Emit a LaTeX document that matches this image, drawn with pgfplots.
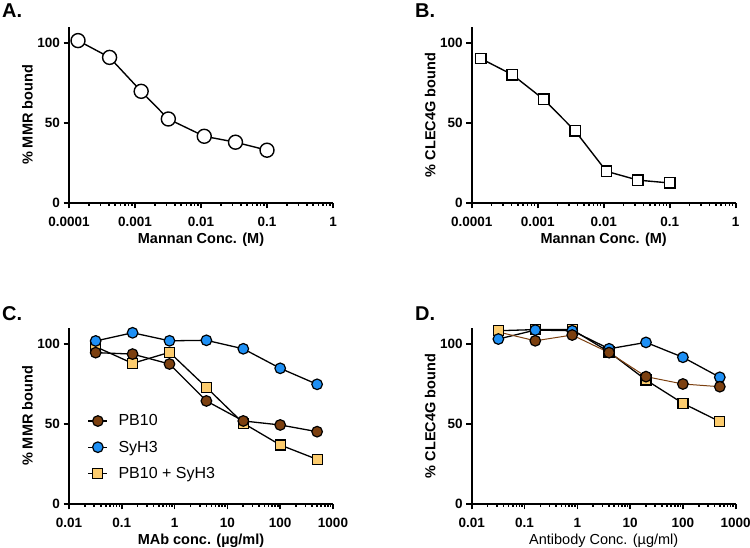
\documentclass[border=0pt]{standalone}
\usepackage{fontspec}
\setmainfont{Liberation Sans}
\usepackage{pgfplots}
\pgfplotsset{compat=1.18}

\definecolor{pbbrown}{RGB}{124,64,16}
\definecolor{syblue}{RGB}{30,144,245}
\definecolor{mixyellow}{RGB}{252,204,110}

\pgfplotsset{
  panel/.style={
    scale only axis, width=264pt, height=176pt,
    ymin=0, ymax=110,
    axis x line*=bottom, axis y line*=left,
    axis line style={line width=1.6pt, -},
    tick style={line width=1.6pt, black},
    major tick length=5.5pt, tick align=outside,
    minor xtick={}, minor ytick={},
    ytick={0,50,100}, yticklabels={0,50,100},
    tick label style={font=\fontsize{13.5}{15}\selectfont\bfseries},
    xticklabel style={yshift=-5pt},
    every axis y label/.style={at={(axis description cs:0,0.5)}, xshift=-41.5pt,
      rotate=90, anchor=center, font=\fontsize{14.5}{16}\selectfont\bfseries},
    every axis x label/.style={at={(axis description cs:0.5,0)}, yshift=-37pt,
      anchor=center, font=\fontsize{14.5}{16}\selectfont\bfseries},
    clip=false,
  },
  mannan/.style={xmin=0.0001, xmax=1,
    xtick={0.0001,0.001,0.01,0.1,1}, xticklabels={0.0001,0.001,0.01,0.1,1},
    xlabel={Mannan Conc. (M)}},
  dose/.style={xmin=0.01, xmax=1000,
    xtick={0.01,0.1,1,10,100,1000}, xticklabels={0.01,0.1,1,10,100,1000}},
  pb/.style={black, line width=1.3pt, mark=*, mark size=5.3pt,
    mark options={fill=pbbrown, draw=black, line width=1.2pt}},
  sy/.style={black, line width=1.3pt, mark=*, mark size=5.3pt,
    mark options={fill=syblue, draw=black, line width=1.2pt}},
  mix/.style={black, line width=1.3pt, mark=square*, mark size=5pt,
    mark options={fill=mixyellow, draw=black, line width=1.2pt}},
}

\begin{document}
\begin{tikzpicture}[x=1pt,y=1pt]
\useasboundingbox (0,0) rectangle (750,548);

\node[anchor=base west, inner sep=0pt, font=\fontsize{20}{24}\selectfont\bfseries] at (2,530) {A.};
\node[anchor=base west, inner sep=0pt, font=\fontsize{20}{24}\selectfont\bfseries] at (415,530) {B.};
\node[anchor=base west, inner sep=0pt, font=\fontsize{20}{24}\selectfont\bfseries] at (2,227) {C.};
\node[anchor=base west, inner sep=0pt, font=\fontsize{20}{24}\selectfont\bfseries] at (415,227) {D.};

% A
\begin{semilogxaxis}[panel, mannan, at={(69pt,345pt)}, anchor=south west, ylabel={\% MMR bound}]
\addplot[black, line width=1.4pt, mark=*, mark size=7pt,
  mark options={fill=white, line width=1.4pt}] coordinates {
  (0.000137,101.5) (0.000412,91) (0.00124,69.8) (0.0032,52.5)
  (0.0112,41.7) (0.0333,38) (0.1,33)};
\end{semilogxaxis}

% B
\begin{semilogxaxis}[panel, mannan, at={(471.7pt,345pt)}, anchor=south west, ylabel={\% CLEC4G bound}]
\addplot[black, line width=1.4pt, mark=square*, mark size=5.2pt,
  mark options={fill=white, line width=1.4pt}] coordinates {
  (0.000137,90.3) (0.000412,80.2) (0.00123,64.8) (0.0037,45)
  (0.011,19.8) (0.033,14.3) (0.1,12.5)};
\end{semilogxaxis}

% C
\begin{semilogxaxis}[panel, dose, at={(69pt,44pt)}, anchor=south west,
  xlabel={MAb conc. (µg/ml)}, ylabel={\% MMR bound},
  legend cell align=left,
  legend style={at={(0.07,0.517)}, anchor=north west, draw=none, fill=none,
    font=\fontsize{16}{18}\selectfont, row sep=10.5pt, inner sep=0pt,
    nodes={inner sep=1.5pt}},
  legend image code/.code={
    \draw[black, line width=1.4pt] (-9.5pt,0pt) -- (9.5pt,0pt);
    \draw[#1] plot[only marks] coordinates {(0pt,0pt)};
    \path (18.5pt,0pt);},
  ]
\addplot[mix, forget plot] coordinates {
  (0.032,98.3) (0.16,87.9) (0.8,94.8) (4,72.9) (20,50.5) (100,36.9) (500,27.9)};
\addplot[pb] coordinates {
  (0.032,94.6) (0.16,93.7) (0.8,87.5) (4,64.4) (20,51.9) (100,49.4) (500,45.2)};
\addplot[sy] coordinates {
  (0.032,101.9) (0.16,107) (0.8,102) (4,102.3) (20,97) (100,84.8) (500,74.8)};
\addlegendimage{mix}
\legend{PB10, SyH3, PB10 + SyH3}
\end{semilogxaxis}

% D
\begin{semilogxaxis}[panel, dose, at={(471.7pt,44pt)}, anchor=south west,
  xlabel={Antibody Conc. (µg/ml)}, ylabel={\% CLEC4G bound},
  xlabel style={font=\fontsize{14.5}{16}\selectfont}]
\addplot[mix] coordinates {
  (0.032,108.3) (0.16,109) (0.8,109) (4,95) (20,77.5) (100,62.9) (500,51.5)};
\addplot[sy] coordinates {
  (0.032,103.1) (0.16,108.7) (0.8,108.3) (4,97) (20,101) (100,91.7) (500,79.2)};
\addplot[pb, pbbrown, line width=1pt, mark indices={2,3,4,5,6,7}] coordinates {
  (0.032,107.5) (0.16,102) (0.8,105.6) (4,94.6) (20,79.6) (100,75) (500,73.3)};
\end{semilogxaxis}
\end{tikzpicture}
\end{document}
